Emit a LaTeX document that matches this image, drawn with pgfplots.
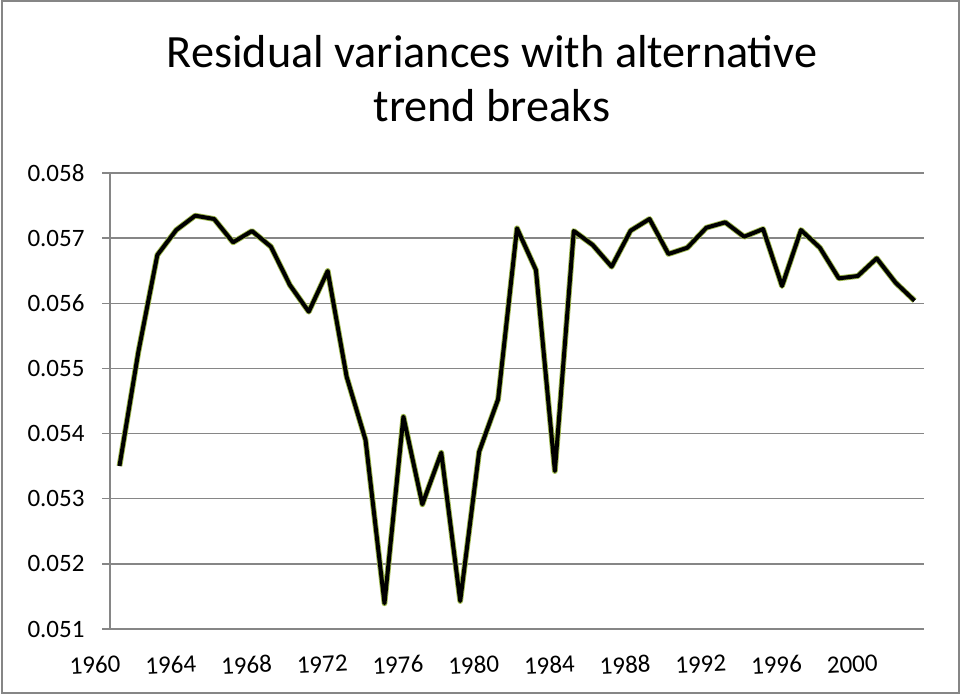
\documentclass[border=0pt]{standalone}
\usepackage{pgfplots}
\pgfplotsset{compat=1.18}
\usepackage{fontspec}
\setmainfont{Carlito}
\definecolor{gridgray}{RGB}{134,134,134}
\definecolor{glow}{RGB}{160,185,80}
\pgfplotstableread{
k v
0 0.053502
1 0.055257
2 0.056741
3 0.057125
4 0.057345
5 0.057294
6 0.056936
7 0.057110
8 0.056869
9 0.056281
10 0.055871
11 0.056496
12 0.054873
13 0.053901
14 0.051394
15 0.054259
16 0.052914
17 0.053706
18 0.051430
19 0.053722
20 0.054526
21 0.057151
22 0.056511
23 0.053425
24 0.057110
25 0.056895
26 0.056562
27 0.057115
28 0.057294
29 0.056757
30 0.056853
31 0.057160
32 0.057243
33 0.057022
34 0.057140
35 0.056265
36 0.057125
37 0.056853
38 0.056383
39 0.056419
40 0.056690
41 0.056316
42 0.056040
}\datatable
\begin{document}
\begin{tikzpicture}
\path[use as bounding box] (0,0) rectangle (384.8pt,278pt);
\draw[gridgray, line width=0.5pt] (0.8pt,0.8pt) rectangle (383.6pt,277.6pt);
\node[anchor=base, font=\fontsize{18.5}{22}\selectfont] at (196.8pt,250.8pt) {Residual variances with alternative};
\node[anchor=base, font=\fontsize{18.5}{22}\selectfont] at (196.8pt,229.2pt) {trend breaks};
\begin{axis}[
  at={(44pt,26.4pt)}, anchor=south west,
  scale only axis, width=325.6pt, height=182.4pt,
  xmin=-0.5, xmax=42.5, ymin=0.051, ymax=0.058,
  axis line style={gridgray, line width=0.6pt},
  axis x line*=bottom, axis y line*=left,
  tick align=outside,
  major tick length=3.2pt, minor tick length=3.2pt,
  tick style={gridgray, line width=0.6pt},
  xtick={0,4,...,40},
  xticklabels={1960,1964,1968,1972,1976,1980,1984,1988,1992,1996,2000},
  x tick style={draw=none},
  minor xtick={-0.5,0.5,...,42.5},
  ytick={0.051,0.052,...,0.0585},
  scaled y ticks=false,
  yticklabel style={/pgf/number format/fixed, /pgf/number format/fixed zerofill, /pgf/number format/precision=3, inner sep=0pt, xshift=-6.8pt},
  xticklabel style={rotate=3, anchor=north east, inner sep=0pt, yshift=-7pt},
  /pgf/number format/assume math mode=true,
  tick label style={font=\fontsize{10}{12}\selectfont},
  ymajorgrids, grid style={gridgray, line width=0.6pt},
  clip=false,
]
\addplot[glow, line width=2.3pt, line join=round, mark=none] table[x=k, y=v] {\datatable};
\addplot[black, line width=1.6pt, line join=round, mark=none] table[x=k, y=v] {\datatable};
\end{axis}
\end{tikzpicture}
\end{document}
